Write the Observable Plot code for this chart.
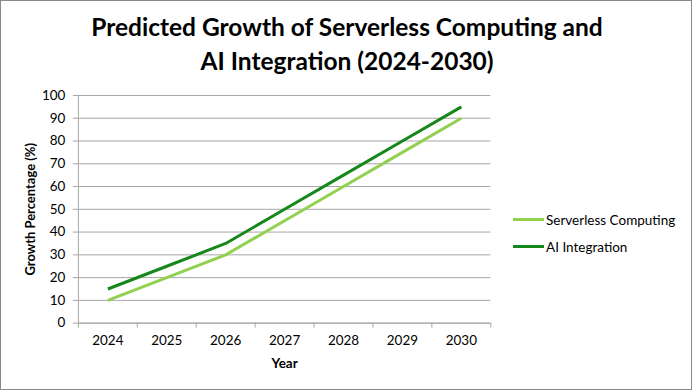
<!DOCTYPE html>
<html>
<head>
<meta charset="utf-8">
<script src="https://cdn.jsdelivr.net/npm/d3@7"></script>
<script src="https://cdn.jsdelivr.net/npm/@observablehq/plot@0.6"></script>
<style>
  html, body { margin: 0; padding: 0; background: #fff; }
  #chart { position: relative; width: 690px; height: 388px; border: 1px solid #8a8a8a; overflow: hidden; font-family: Lato, "Open Sans", sans-serif; }
  #title { position: absolute; left: 0; top: 9px; width: 692px; text-align: center; font-weight: bold; font-size: 24.5px; line-height: 34px; color: #000; }
  #plot { position: absolute; left: -1px; top: 79px; }
  #legend { position: absolute; left: 512px; top: 205px; font-size: 13.5px; color: #000; }
  .li { display: flex; align-items: center; height: 27px; }
  .sw { width: 31px; height: 3px; margin-right: 2px; }
</style>
</head>
<body>
<div id="chart">
  <div id="title">Predicted Growth of Serverless Computing and<br>AI Integration (2024-2030)</div>
  <div id="plot"></div>
  <div id="legend"></div>
</div>
<script>
const years = [2024, 2025, 2026, 2027, 2028, 2029, 2030];
const serverless = [10, 20, 30, 45, 60, 75, 90];
const aiIntegration = [15, 25, 35, 50, 65, 80, 95];
const seriesNames = ["Serverless Computing", "AI Integration"];
const seriesColors = ["#92D050", "#16871A"];
const yTicks = [0, 10, 20, 30, 40, 50, 60, 70, 80, 90, 100];

const data = [];
years.forEach((y, i) => {
  data.push({year: y, value: serverless[i], series: seriesNames[0]});
  data.push({year: y, value: aiIntegration[i], series: seriesNames[1]});
});
const boundaries = d3.range(years[0] - 0.5, years[years.length - 1] + 1, 1);

const chart = Plot.plot({
  width: 692,
  height: 311,
  marginLeft: 78,
  marginRight: 201,
  marginTop: 15,
  marginBottom: 68,
  style: {fontFamily: "Lato, 'Open Sans', sans-serif", fontSize: "13px", color: "#000", background: "transparent"},
  x: {domain: [years[0] - 0.5, years[years.length - 1] + 0.5]},
  y: {domain: [0, 100]},
  color: {domain: seriesNames, range: seriesColors},
  marks: [
    Plot.gridY(yTicks, {stroke: "#A6A6A6", strokeOpacity: 1, strokeWidth: 1}),
    Plot.ruleX([years[0] - 0.5], {stroke: "#A6A6A6"}),
    Plot.ruleY([0], {stroke: "#A6A6A6"}),
    Plot.axisY({ticks: yTicks, tickSize: 5, tickPadding: 8, stroke: "#A6A6A6", fontSize: 13.5, label: null}),
    Plot.axisX({ticks: years, tickSize: 0, tickPadding: 12, tickFormat: d => String(d), fontSize: 13.5, label: null}),
    Plot.axisX({ticks: boundaries, tickSize: 5, tickFormat: () => "", stroke: "#A6A6A6", label: null}),
    Plot.line(data, {x: "year", y: "value", z: "series", stroke: "series", strokeWidth: 3, strokeLinejoin: "round", strokeLinecap: "butt"}),
    Plot.text(["Year"], {frameAnchor: "bottom", dy: 41, lineAnchor: "middle", fontWeight: "bold", fontSize: 13.5}),
    Plot.text(["Growth Percentage (%)"], {frameAnchor: "left", dx: -48, rotate: -90, textAnchor: "middle", lineAnchor: "middle", fontWeight: "bold", fontSize: 13})
  ]
});
document.getElementById("plot").appendChild(chart);

const legend = document.getElementById("legend");
seriesNames.forEach((n, i) => {
  const row = document.createElement("div");
  row.className = "li";
  const sw = document.createElement("div");
  sw.className = "sw";
  sw.style.background = seriesColors[i];
  const t = document.createElement("span");
  t.textContent = n;
  row.appendChild(sw);
  row.appendChild(t);
  legend.appendChild(row);
});
</script>
</body>
</html>
